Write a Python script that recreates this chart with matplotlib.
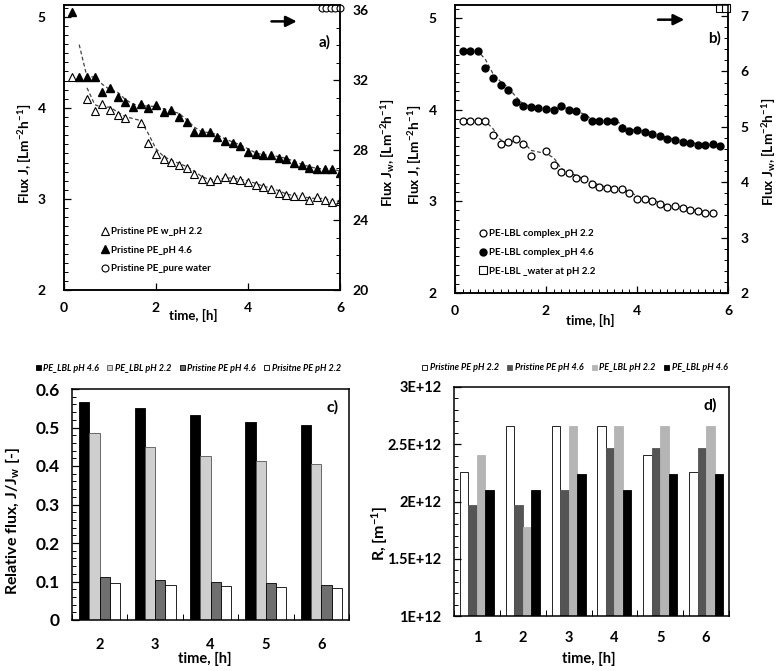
import numpy as np
import pandas as pd
import matplotlib
matplotlib.use("Agg")
import matplotlib.pyplot as plt
from matplotlib.ticker import MultipleLocator
from matplotlib.patches import Patch

plt.rcParams['font.family'] = ['Lato', 'DejaVu Sans']
plt.rcParams['font.weight'] = 'bold'
plt.rcParams['axes.labelweight'] = 'bold'
plt.rcParams['mathtext.fontset'] = 'custom'
plt.rcParams['mathtext.rm'] = 'Lato:bold'
plt.rcParams['mathtext.it'] = 'Lato:bold:italic'
plt.rcParams['mathtext.bf'] = 'Lato:bold'
plt.rcParams['mathtext.default'] = 'rm'

# ---------------- data: panel a (pristine PE) ----------------
ta_46 = [0.17, 0.33, 0.5, 0.67, 0.83, 1.0, 1.17, 1.33, 1.5, 1.67, 1.83, 2.0, 2.17, 2.33, 2.5, 2.67,
         2.83, 3.0, 3.17, 3.33, 3.5, 3.67, 3.83, 4.0, 4.17, 4.33, 4.5, 4.67, 4.83, 5.0, 5.17, 5.33,
         5.5, 5.67, 5.83, 6.0]
ya_46 = [5.05, 4.34, 4.34, 4.34, 4.18, 4.22, 4.12, 4.07, 4.01, 4.04, 4.00, 4.03, 3.95, 3.98, 3.90, 3.84,
         3.74, 3.73, 3.73, 3.68, 3.64, 3.61, 3.58, 3.52, 3.49, 3.48, 3.48, 3.45, 3.44, 3.39, 3.37, 3.34,
         3.33, 3.33, 3.33, 3.28]
ta_22 = [0.17, 0.5, 0.67, 0.83, 1.0, 1.17, 1.33, 1.67, 1.83, 2.0, 2.17, 2.33, 2.5, 2.67, 2.83, 3.0,
         3.17, 3.33, 3.5, 3.67, 3.83, 4.0, 4.17, 4.33, 4.5, 4.67, 4.83, 5.0, 5.17, 5.33, 5.5, 5.67,
         5.83, 6.0]
ya_22 = [4.34, 4.10, 3.97, 4.04, 3.98, 3.92, 3.89, 3.83, 3.61, 3.49, 3.44, 3.41, 3.37, 3.34, 3.27, 3.22,
         3.20, 3.22, 3.24, 3.22, 3.21, 3.19, 3.15, 3.13, 3.11, 3.07, 3.04, 3.03, 3.03, 2.99, 3.02, 2.99,
         2.97, 2.98]
ta_w = [5.6, 5.7, 5.8, 5.9, 6.0]
ya_w = [36.15, 36.15, 36.15, 36.15, 36.15]

# ---------------- data: panel b (PE-LBL) ----------------
tb_46 = [0.17, 0.33, 0.5, 0.67, 0.83, 1.0, 1.17, 1.33, 1.5, 1.67, 1.83, 2.0, 2.17, 2.33, 2.5, 2.67,
         2.83, 3.0, 3.17, 3.33, 3.5, 3.67, 3.83, 4.0, 4.17, 4.33, 4.5, 4.67, 4.83, 5.0, 5.17, 5.33,
         5.5, 5.67, 5.83]
yb_46 = [4.64, 4.64, 4.64, 4.45, 4.34, 4.27, 4.21, 4.08, 4.04, 4.03, 4.02, 4.01, 4.00, 4.04, 3.99, 3.98,
         3.92, 3.88, 3.88, 3.88, 3.88, 3.80, 3.77, 3.78, 3.75, 3.73, 3.71, 3.68, 3.67, 3.65, 3.64, 3.61,
         3.61, 3.62, 3.60]
tb_22 = [0.17, 0.33, 0.5, 0.67, 0.83, 1.0, 1.17, 1.33, 1.5, 1.67, 2.0, 2.17, 2.33, 2.5, 2.67, 2.83,
         3.0, 3.17, 3.33, 3.5, 3.67, 3.83, 4.0, 4.17, 4.33, 4.5, 4.67, 4.83, 5.0, 5.17, 5.33, 5.5, 5.67]
yb_22 = [3.87, 3.87, 3.87, 3.87, 3.72, 3.62, 3.65, 3.68, 3.62, 3.49, 3.55, 3.40, 3.32, 3.31, 3.25, 3.24,
         3.19, 3.16, 3.15, 3.13, 3.13, 3.09, 3.02, 3.03, 3.00, 2.97, 2.94, 2.95, 2.93, 2.90, 2.89, 2.87, 2.87]
tb_w = [5.83, 5.95]
yb_w = [7.15, 7.15]

# ---------------- data: panel c (relative flux) ----------------
c_times = ['2', '3', '4', '5', '6']
c_lbl46 = [0.567, 0.550, 0.533, 0.513, 0.506]
c_lbl22 = [0.486, 0.450, 0.425, 0.412, 0.404]
c_pri46 = [0.112, 0.105, 0.100, 0.096, 0.092]
c_pri22 = [0.097, 0.090, 0.089, 0.085, 0.083]

# ---------------- data: panel d (resistance) ----------------
d_times = ['1', '2', '3', '4', '5', '6']
d_pri22 = [2.26e12, 2.66e12, 2.66e12, 2.66e12, 2.41e12, 2.26e12]
d_pri46 = [1.97e12, 1.97e12, 2.10e12, 2.47e12, 2.47e12, 2.47e12]
d_lbl22 = [2.41e12, 1.78e12, 2.66e12, 2.66e12, 2.66e12, 2.66e12]
d_lbl46 = [2.10e12, 2.10e12, 2.24e12, 2.10e12, 2.24e12, 2.24e12]

W, H = 779, 671
fig = plt.figure(figsize=(W / 100, H / 100), dpi=100)


def rect(l, r, t, b):
    return [l / W, 1 - b / H, (r - l) / W, (b - t) / H]


TICK = 10
LAB = 9.8


def style(ax):
    for s in ax.spines.values():
        s.set_linewidth(1.1)
    ax.tick_params(which='major', direction='in', length=5, width=0.9, labelsize=TICK)
    ax.tick_params(which='minor', direction='in', length=3, width=0.7)
    for lab in ax.get_xticklabels() + ax.get_yticklabels():
        lab.set_fontweight('bold')


dash = dict(ls=(0, (3, 2)), lw=0.9, color='#444444')
arrow = dict(arrowstyle='-|>', lw=1.8, color='black', mutation_scale=16)

# ======================= panel a =======================
axA = fig.add_axes(rect(64, 340, 5, 290))
axA.plot(ta_46, pd.Series(ya_46).rolling(2).mean(), **dash)
axA.plot(ta_22, pd.Series(ya_22).rolling(2).mean(), **dash)
hA22, = axA.plot(ta_22, ya_22, ls='none', marker='^', ms=6.3, mfc='white', mec='black', mew=0.8,
                 label='Pristine PE w_pH 2.2')
hA46, = axA.plot(ta_46, ya_46, ls='none', marker='^', ms=6.3, mfc='black', mec='black',
                 label='Pristine PE_pH 4.6')
axA.set_xlim(0, 6)
axA.set_ylim(2, 5.13)
axA.set_xticks([0, 2, 4, 6])
axA.set_yticks([2, 3, 4, 5])
axA.yaxis.set_minor_locator(MultipleLocator(0.1))
axA2 = axA.twinx()
hAw, = axA2.plot(ta_w, ya_w, ls='none', marker='o', ms=5, mfc='white', mec='black', mew=0.8,
                 clip_on=False, label='Pristine PE_pure water')
axA2.set_ylim(20, 36.3)
axA2.set_yticks([20, 24, 28, 32, 36])
axA2.yaxis.set_minor_locator(MultipleLocator(1))
style(axA)
style(axA2)
axA.tick_params(axis='x', pad=9)
axA.tick_params(axis='y', pad=13)
axA2.tick_params(axis='y', pad=9)
axA.set_ylabel(r'Flux J, [Lm$^{-2}$h$^{-1}$]', fontsize=LAB, fontweight='bold')
axA.yaxis.set_label_coords(-0.112, 0.477)
axA2.set_ylabel(r'Flux J$_{w}$, [Lm$^{-2}$h$^{-1}$]', fontsize=LAB, fontweight='bold', rotation=90)
axA2.yaxis.set_label_coords(1.141, 0.48)
axA.set_xlabel('time, [h]', fontsize=9.5, fontweight='bold')
axA.xaxis.set_label_coords(0.467, -0.068)
axA.annotate('', xy=(5.12, 4.95), xytext=(4.45, 4.95), arrowprops=arrow)
axA.text(0.946, 0.87, 'a)', transform=axA.transAxes, fontsize=11, fontweight='bold',
         ha='center', va='center')
axA.legend(handles=[hA22, hA46, hAw], loc='upper left', bbox_to_anchor=(0.12, 0.235),
           frameon=False, handlelength=0.8, handletextpad=0.2, labelspacing=1.0,
           borderaxespad=0, prop={'size': 7, 'weight': 'bold'})

# ======================= panel b =======================
axB = fig.add_axes(rect(455, 728, 5, 293))
axB.plot(tb_46, pd.Series(yb_46).rolling(2).mean(), **dash)
axB.plot(tb_22, pd.Series(yb_22).rolling(2).mean(), **dash)
hB22, = axB.plot(tb_22, yb_22, ls='none', marker='o', ms=5, mfc='white', mec='black', mew=0.9,
                 label='PE-LBL complex_pH 2.2')
hB46, = axB.plot(tb_46, yb_46, ls='none', marker='o', ms=5, mfc='black', mec='black',
                 label='PE-LBL complex_pH 4.6')
axB.set_xlim(0, 6)
axB.set_ylim(2, 5.14)
axB.set_xticks([0, 2, 4, 6])
axB.set_yticks([2, 3, 4, 5])
axB.yaxis.set_minor_locator(MultipleLocator(0.1))
axB.xaxis.set_minor_locator(MultipleLocator(1 / 6))
axB2 = axB.twinx()
hBw, = axB2.plot(tb_w, yb_w, ls='none', marker='s', ms=5.5, mfc='white', mec='black', mew=0.8,
                 clip_on=False, label='PE-LBL _water at pH 2.2')
axB2.set_ylim(2, 7.2)
axB2.set_yticks([2, 3, 4, 5, 6, 7])
axB2.yaxis.set_minor_locator(MultipleLocator(0.2))
style(axB)
style(axB2)
axB.tick_params(axis='x', pad=9)
axB.tick_params(axis='y', pad=13)
axB2.tick_params(axis='y', pad=9)
axB.set_ylabel(r'Flux J, [Lm$^{-2}$h$^{-1}$]', fontsize=LAB, fontweight='bold')
axB.yaxis.set_label_coords(-0.117, 0.48)
axB2.set_ylabel(r'Flux J$_{w}$, [Lm$^{-2}$h$^{-1}$]', fontsize=LAB, fontweight='bold', rotation=90)
axB2.yaxis.set_label_coords(1.117, 0.49)
axB.set_xlabel('time, [h]', fontsize=9.5, fontweight='bold')
axB.xaxis.set_label_coords(0.495, -0.073)
axB.annotate('', xy=(5.1, 4.98), xytext=(4.4, 4.98), arrowprops=arrow)
axB.text(0.952, 0.885, 'b)', transform=axB.transAxes, fontsize=11, fontweight='bold',
         ha='center', va='center')
axB.legend(handles=[hB22, hB46, hBw], loc='upper left', bbox_to_anchor=(0.075, 0.235),
           frameon=False, handlelength=0.8, handletextpad=0.2, labelspacing=1.0,
           borderaxespad=0, prop={'size': 7, 'weight': 'bold'})

# ======================= panel c =======================
axC = fig.add_axes(rect(72, 349, 389, 620))
xc = np.arange(len(c_times))
bw = 0.185
c_series = [(c_lbl46, 'black', 'black', 'PE_LBL pH 4.6'),
            (c_lbl22, '#cfcfcf', '#555555', 'PE_LBL pH 2.2'),
            (c_pri46, '#6f6f6f', 'black', 'Pristine PE pH 4.6'),
            (c_pri22, 'white', 'black', 'Prisitne PE pH 2.2')]
for k, (vals, fc, ec, lab) in enumerate(c_series):
    axC.bar(xc + (k - 1.5) * bw, vals, width=bw, color=fc, edgecolor=ec, linewidth=0.6, label=lab)
axC.set_xlim(-0.5, len(c_times) - 0.5)
axC.set_ylim(0, 0.6)
axC.set_xticks(xc)
axC.set_xticklabels(c_times)
axC.set_xticks(np.arange(len(c_times) + 1) - 0.5, minor=True)
axC.yaxis.set_minor_locator(MultipleLocator(0.02))
axC.set_yticks([0, 0.1, 0.2, 0.3, 0.4, 0.5, 0.6])
axC.set_yticklabels(['0', '0.1', '0.2', '0.3', '0.4', '0.5', '0.6'])
style(axC)
axC.tick_params(axis='x', which='major', length=0, pad=13, labelsize=10.5)
axC.tick_params(axis='x', which='minor', length=4)
axC.tick_params(axis='y', labelsize=12.5, pad=9)
for lab in axC.get_xticklabels() + axC.get_yticklabels():
    lab.set_fontweight('bold')
axC.set_ylabel(r'Relative flux, J/J$_{w}$ [-]', fontsize=11.5, fontweight='bold')
axC.yaxis.set_label_coords(-0.18, 0.43)
axC.set_xlabel('time, [h]', fontsize=10.5, fontweight='bold')
axC.xaxis.set_label_coords(0.48, -0.139)
axC.text(0.942, 0.92, 'c)', transform=axC.transAxes, fontsize=11.5, fontweight='bold',
         ha='center', va='center')
hc = [Patch(facecolor=fc, edgecolor=ec, linewidth=0.6, label=lab) for _, fc, ec, lab in c_series]
axC.legend(handles=hc, loc='center', bbox_to_anchor=(0.42, 1.09), ncol=4, frameon=False,
           handlelength=0.55, handleheight=0.55, handletextpad=0.3, columnspacing=0.9,
           borderaxespad=0, prop={'size': 6.5, 'weight': 'bold', 'style': 'italic'})

# ======================= panel d =======================
axD = fig.add_axes(rect(454, 729, 387, 616))
xd = np.arange(len(d_times))
d_series = [(d_pri22, 'white', 'black', 'Pristine PE pH 2.2'),
            (d_pri46, '#555555', '#555555', 'Pristine PE pH 4.6'),
            (d_lbl22, '#b5b5b5', '#b5b5b5', 'PE_LBL pH 2.2'),
            (d_lbl46, 'black', 'black', 'PE_LBL pH 4.6')]
for k, (vals, fc, ec, lab) in enumerate(d_series):
    axD.bar(xd + (k - 1.5) * bw, vals, width=bw, color=fc, edgecolor=ec, linewidth=0.6, label=lab)
axD.set_xlim(-0.5, len(d_times) - 0.5)
axD.set_ylim(1e12, 3e12)
axD.set_xticks(xd)
axD.set_xticklabels(d_times)
axD.set_xticks(np.arange(len(d_times) + 1) - 0.5, minor=True)
axD.set_yticks([1e12, 1.5e12, 2e12, 2.5e12, 3e12])
axD.set_yticklabels(['1E+12', '1.5E+12', '2E+12', '2.5E+12', '3E+12'])
axD.yaxis.set_minor_locator(MultipleLocator(0.1e12))
style(axD)
axD.tick_params(axis='x', which='major', length=0, pad=11, labelsize=10.5)
axD.tick_params(axis='x', which='minor', length=4)
axD.tick_params(axis='y', labelsize=10.5, pad=9)
for lab in axD.get_xticklabels() + axD.get_yticklabels():
    lab.set_fontweight('bold')
axD.set_ylabel(r'R, [m$^{-1}$]', fontsize=11.5, fontweight='bold')
axD.yaxis.set_label_coords(-0.233, 0.36)
axD.set_xlabel('time, [h]', fontsize=10.5, fontweight='bold')
axD.xaxis.set_label_coords(0.49, -0.157)
axD.text(0.93, 0.92, 'd)', transform=axD.transAxes, fontsize=11.5, fontweight='bold',
         ha='center', va='center')
hd = [Patch(facecolor=fc, edgecolor=ec, linewidth=0.6, label=lab) for _, fc, ec, lab in d_series]
axD.legend(handles=hd, loc='center', bbox_to_anchor=(0.44, 1.083), ncol=4, frameon=False,
           handlelength=0.55, handleheight=0.55, handletextpad=0.3, columnspacing=0.9,
           borderaxespad=0, prop={'size': 6.5, 'weight': 'bold', 'style': 'italic'})

fig.savefig('out.png', dpi=100)
